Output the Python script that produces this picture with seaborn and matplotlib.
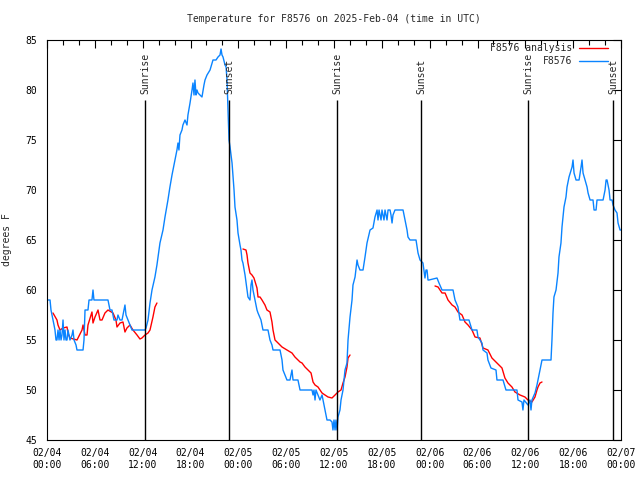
import pandas as pd
import numpy as np
import matplotlib
matplotlib.use("Agg")
import matplotlib.pyplot as plt
import matplotlib.dates as mdates
import seaborn as sns

# hours after 2025-02-04 00:00 UTC
obs_hours = [0.00, 0.38, 0.50, 0.63, 0.88, 1.00, 1.13, 1.25, 1.38, 1.51, 1.63, 1.76, 1.88, 2.01,
             2.13, 2.26, 2.38, 2.51, 2.63, 2.88, 3.14, 3.26, 3.39, 3.64, 3.76, 4.52, 4.64, 4.77,
             5.14, 5.27, 5.64, 5.77, 5.89, 7.65, 7.90, 8.15, 8.40, 8.78, 8.90, 9.16, 9.41, 9.66,
             9.78, 9.91, 10.16, 10.41, 10.66, 12.29, 12.42, 12.67, 12.92, 13.17, 13.54, 13.79,
             14.17, 14.55, 14.80, 15.17, 15.42, 15.68, 16.05, 16.30, 16.43, 16.55, 16.68, 16.93,
             17.05, 17.31, 17.56, 17.68, 17.94, 18.19, 18.31, 18.44, 18.56, 18.69, 18.81, 18.94,
             19.19, 19.44, 19.69, 19.82, 20.07, 20.45, 20.82, 21.20, 21.45, 21.70, 21.83, 21.95,
             22.08, 22.33, 22.46, 22.58, 22.71, 22.83, 22.96, 23.21, 23.46, 23.58, 23.83, 23.96,
             24.21, 24.33, 24.46, 24.58, 24.84, 25.09, 25.21, 25.46, 25.59, 25.71, 25.84, 26.09,
             26.34, 26.47, 26.84, 26.97, 27.09, 27.72, 27.85, 27.97, 28.22, 28.35, 29.23, 29.48,
             29.60, 29.85, 30.10, 30.48, 30.61, 30.73, 30.86, 31.48, 31.61, 31.74, 33.24, 33.37,
             33.49, 33.62, 33.74, 33.99, 34.24, 34.50, 34.75, 34.87, 35.12, 35.50, 35.75, 35.87,
             36.00, 36.13, 36.25, 36.38, 36.50, 36.75, 36.88, 37.13, 37.25, 37.38, 37.63, 37.76,
             38.01, 38.26, 38.38, 38.64, 38.89, 39.01, 39.26, 39.64, 39.89, 40.14, 40.52, 40.89,
             41.14, 41.40, 41.52, 41.65, 41.90, 42.02, 42.27, 42.40, 42.65, 42.78, 43.03, 43.15,
             43.28, 43.40, 43.65, 44.66, 44.91, 45.16, 45.28, 45.53, 46.29, 46.54, 46.79, 47.16,
             47.41, 47.54, 47.67, 47.79, 47.92, 48.92, 49.17, 49.55, 50.93, 51.18, 51.55, 51.80,
             52.93, 53.31, 53.93, 54.06, 54.56, 54.69, 55.19, 55.31, 55.69, 56.32, 56.44, 57.20,
             57.57, 58.95, 59.08, 59.58, 59.70, 59.83, 60.33, 60.58, 60.71, 60.83, 61.21, 61.46,
             61.59, 61.84, 62.09, 63.22, 63.34, 63.47, 63.59, 63.85, 64.10, 64.22, 64.47, 64.60,
             64.85, 65.10, 65.23, 65.48, 65.86, 65.98, 66.11, 66.36, 66.74, 66.99, 67.11, 67.24,
             67.49, 67.74, 67.87, 68.12, 68.49, 68.62, 68.87, 68.99, 69.75, 70.00, 70.13, 70.25,
             70.50, 70.63, 70.88, 71.00, 71.25, 71.50, 71.63, 71.88, 72.00]
obs_temp = [59, 59, 58, 57.5, 56.5, 56, 55, 55, 56, 55, 56, 55, 55.5, 57,
            55, 56, 55, 55, 56, 55, 55.5, 56, 55, 54.5, 54, 54, 55, 58,
            58, 59, 59, 60, 59, 59, 58, 58, 57, 57, 57.5, 57, 57, 58,
            58.5, 57.5, 57, 56.5, 56, 56, 56.2, 57, 58.7, 60, 61.3, 62.5,
            64.7, 66, 67.3, 69, 70.3, 71.5, 73, 74, 74.7, 74, 75.5, 76,
            76.5, 77, 76.5, 77.5, 78.7, 80, 80.7, 79.5, 81, 79.5, 80, 79.7,
            79.5, 79.3, 80.5, 81, 81.5, 82, 83, 83, 83.3, 83.5, 84.1, 83.5,
            83.3, 82.5, 82.3, 81, 78, 75, 74.3, 72.7, 70, 68.3, 67, 65.7,
            64.5, 64, 63, 62.7, 61.5, 60, 59.3, 59, 60.5, 61, 60, 59,
            58, 57.7, 57, 56.5, 56, 56, 55.5, 55, 54.5, 54, 54, 53,
            52, 51.5, 51, 51, 51.5, 52, 51, 51, 50.5, 50, 50, 49.5,
            50, 49, 50, 49.5, 49, 49.5, 48.5, 48, 47, 47, 46.8, 46,
            47, 46, 47, 46, 47.3, 48, 49, 50, 51, 52, 52.7, 55,
            57.3, 59, 60.5, 61.3, 63, 62.5, 62, 62, 63.3, 64.7, 66, 66.2,
            67.3, 68, 67, 68, 67, 68, 67, 68, 67, 68, 68, 67.5,
            66.7, 67.5, 68, 68, 67, 66, 65.3, 65, 65, 63.7, 63, 62.7,
            61.2, 62, 62, 61, 61, 61.2, 60.7, 60, 60, 59, 58.3, 57,
            57, 56, 56, 55.3, 54.7, 54, 53.7, 53, 52.2, 52, 51, 51,
            50, 50, 49, 48.8, 48, 49, 48.5, 49, 48, 49, 49.7, 50.5,
            51, 52, 53, 53, 55, 57.7, 59.3, 60, 61.7, 63.3, 64.7, 66.3,
            68.3, 69.3, 70.3, 71.3, 72.3, 73, 71.7, 71, 71, 72.3, 73, 71.7,
            71, 70.3, 69.7, 69, 69, 68, 68, 69, 69, 70, 71, 71,
            70, 69, 69, 68.5, 68, 67.7, 66.7, 66, 66]

# analysis comes in three separate runs
ana_run1_hours = [0.75, 1.25, 1.38, 1.63, 2.01, 2.51, 2.63, 2.88, 3.76, 3.89, 4.39, 4.52, 4.77, 5.02,
                  5.14, 5.64, 5.77, 6.02, 6.40, 6.65, 6.90, 7.27, 7.65, 8.28, 8.65, 8.78, 9.16, 9.53,
                  9.78, 10.03, 10.41, 10.78, 11.29, 11.66, 11.91, 12.29, 12.67, 12.92, 13.29, 13.54, 13.79]
ana_run1_temp = [57.7, 57, 56.5, 56, 56.2, 56.3, 55.7, 55.2, 55, 55.2, 56, 56.5, 55.5, 55.5,
                 56.5, 57.8, 56.7, 57.3, 58, 57, 57, 57.7, 58, 57.7, 57, 56.3, 56.7, 56.8,
                 55.8, 56.2, 56.5, 56, 55.5, 55.1, 55.2, 55.5, 55.7, 56, 57.3, 58.3, 58.7]
ana_run2_hours = [24.58, 24.96, 25.09, 25.21, 25.46, 25.71, 25.96, 26.34, 26.47, 26.72, 26.97, 27.34,
                  27.59, 27.97, 28.22, 28.35, 28.60, 28.98, 29.48, 30.10, 30.73, 31.10, 31.74, 31.99,
                  32.36, 32.74, 33.12, 33.37, 33.62, 33.99, 34.50, 34.87, 35.25, 35.75, 36.13, 36.50,
                  36.88, 37.13, 37.38, 37.63, 37.76, 38.01]
ana_run2_temp = [64.1, 64, 63.5, 62.7, 61.7, 61.5, 61.2, 60.2, 59.3, 59.3, 59, 58.5,
                 58, 57.8, 56.8, 56, 55, 54.7, 54.3, 54, 53.7, 53.3, 52.8, 52.7,
                 52.3, 52, 51.7, 50.8, 50.5, 50.3, 49.7, 49.5, 49.3, 49.2, 49.5, 49.8,
                 50, 50.7, 51.3, 52.3, 53.2, 53.5]
ana_run3_hours = [48.67, 49.05, 49.55, 49.93, 50.30, 50.81, 51.18, 51.55, 52.06, 52.43, 52.81, 53.31,
                  53.69, 54.31, 54.69, 55.31, 55.81, 56.44, 57.07, 57.44, 57.82, 58.32, 58.70, 59.33,
                  59.95, 60.33, 60.83, 61.21, 61.46, 61.59, 61.84, 62.09]
ana_run3_temp = [60.4, 60.3, 59.7, 59.7, 59, 58.5, 58.3, 57.8, 57.5, 56.8, 56.5, 56,
                 55.3, 55.2, 54.2, 54, 53.2, 52.7, 52.2, 51.2, 50.7, 50.3, 49.8, 49.5,
                 49.3, 49, 48.8, 49.3, 50, 50.3, 50.7, 50.8]

sun_names = ["Sunrise", "Sunset", "Sunrise", "Sunset", "Sunrise", "Sunset"]
sun_hours = [12.32, 22.85, 36.40, 46.90, 60.38, 71.04]

start = pd.Timestamp("2025-02-04 00:00")


def to_time(hours):
    return start + pd.to_timedelta(np.asarray(hours), unit="h")


obs_df = pd.DataFrame({"time": to_time(obs_hours), "temp": obs_temp})
ana_df = pd.concat([
    pd.DataFrame({"time": to_time(h), "temp": t, "run": i})
    for i, (h, t) in enumerate([(ana_run1_hours, ana_run1_temp),
                                 (ana_run2_hours, ana_run2_temp),
                                 (ana_run3_hours, ana_run3_temp)])
])

sns.set_style("white")
plt.rcParams["font.family"] = ["DejaVu Sans Mono"]
fs = 7.0
plt.rcParams["font.size"] = fs

fig = plt.figure(figsize=(6.4, 4.8), dpi=100)
ax = fig.add_axes([47 / 640, 40 / 480, 574 / 640, 400 / 480])

red = "#ff0000"
blue = "#0a84ff"

sns.lineplot(data=ana_df, x="time", y="temp", units="run", estimator=None,
             color=red, lw=1.0, ax=ax, sort=False)
sns.lineplot(data=obs_df, x="time", y="temp", estimator=None,
             color=blue, lw=1.0, ax=ax, sort=False)

for name, h in zip(sun_names, sun_hours):
    t = to_time([h])[0]
    ax.vlines(t, 45, 79, color="black", lw=1.0)
    ax.text(t, 79.6, name, rotation=90, ha="center", va="bottom", fontsize=fs)

ax.set_xlim(start, start + pd.Timedelta(hours=72))
ax.set_ylim(45, 85)
ax.set_yticks(range(45, 86, 5))
ax.xaxis.set_major_locator(mdates.HourLocator(byhour=[0, 6, 12, 18]))
ax.xaxis.set_minor_locator(mdates.HourLocator(byhour=range(0, 24, 2)))
ax.xaxis.set_major_formatter(mdates.DateFormatter("%m/%d\n%H:%M"))
ax.tick_params(which="both", direction="in", top=True, right=True, colors="black",
               labelsize=fs)
ax.tick_params(axis="x", pad=6)
ax.tick_params(axis="y", pad=7)
ax.tick_params(which="major", length=6, width=0.8)
ax.tick_params(which="minor", length=3.5, width=0.8)
for s in ax.spines.values():
    s.set_color("black")
    s.set_linewidth(0.8)

ax.set_xlabel("")
ax.set_ylabel("degrees F", fontsize=fs, labelpad=10)
ax.set_title("Temperature for F8576 on 2025-Feb-04 (time in UTC)", fontsize=fs, pad=13)

handles = [plt.Line2D([], [], color=red, lw=1.0), plt.Line2D([], [], color=blue, lw=1.0)]
ax.legend(handles, ["F8576 analysis", "F8576"], loc="upper right", frameon=False,
          markerfirst=False, fontsize=fs, handlelength=3.0, handletextpad=0.7,
          borderaxespad=0.0, borderpad=0.3, labelspacing=0.35,
          bbox_to_anchor=(1 - 10 / 574, 1.0))

fig.savefig("out.png", dpi=100)
